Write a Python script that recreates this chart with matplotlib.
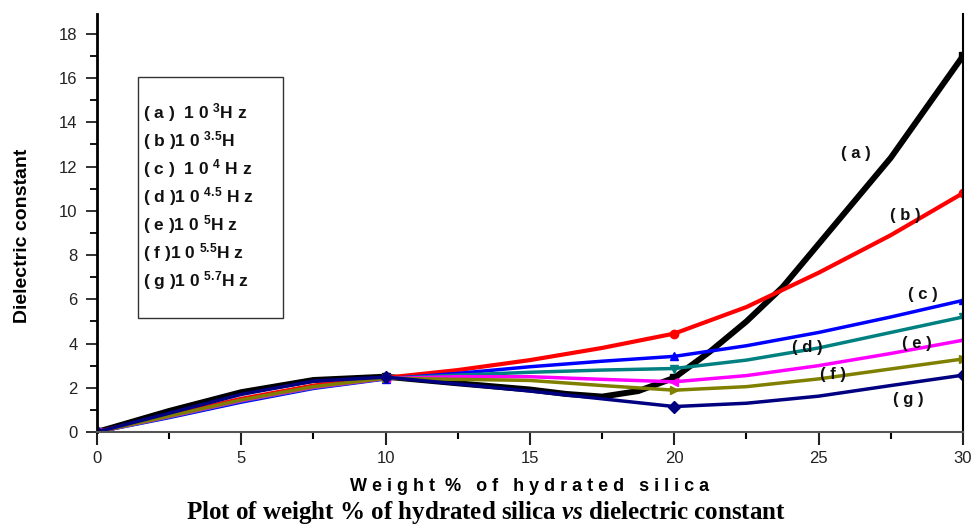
import numpy as np
import matplotlib
matplotlib.use('Agg')
import matplotlib.pyplot as plt
from matplotlib.patches import Rectangle
from matplotlib.ticker import MultipleLocator

plt.rcParams['font.family'] = ['Liberation Sans', 'DejaVu Sans']
plt.rcParams['mathtext.fontset'] = 'custom'
plt.rcParams['mathtext.rm'] = 'Liberation Sans:bold'
plt.rcParams['mathtext.bf'] = 'Liberation Sans:bold'
plt.rcParams['mathtext.it'] = 'Liberation Serif:italic:bold'
plt.rcParams['mathtext.default'] = 'bf'

# weight % of hydrated silica (every 2.5 %)
weight = [0, 2.5, 5, 7.5, 10, 12.5, 15, 17.5, 20, 22.5, 25, 27.5, 30]
# curve (a) bends sharply near 20 %, so it is read more finely there
weight_a = [0, 2.5, 5, 7.5, 10, 12.5, 15, 16.25, 17.5, 18.75, 20, 21.25,
            22.5, 23.75, 25, 27.5, 30]

# dielectric constant for each frequency
eps_a = [0, 0.95, 1.8, 2.35, 2.5, 2.2, 1.92, 1.72, 1.6, 1.85, 2.45, 3.65,
         5.0, 6.55, 8.5, 12.4, 17.0]
eps_b = [0, 0.75, 1.5, 2.1, 2.45, 2.8, 3.25, 3.8, 4.45, 5.65, 7.2, 8.9, 10.8]
eps_c = [0, 0.65, 1.35, 1.97, 2.4, 2.65, 2.95, 3.2, 3.42, 3.9, 4.5, 5.2, 5.95]
eps_d = [0, 0.68, 1.4, 2.0, 2.42, 2.57, 2.7, 2.8, 2.87, 3.25, 3.8, 4.5, 5.2]
eps_e = [0, 0.7, 1.42, 2.02, 2.42, 2.5, 2.5, 2.38, 2.27, 2.55, 3.0, 3.55, 4.15]
eps_f = [0, 0.72, 1.45, 2.05, 2.43, 2.38, 2.33, 2.1, 1.89, 2.05, 2.4, 2.85, 3.3]
eps_g = [0, 0.85, 1.7, 2.3, 2.48, 2.17, 1.85, 1.5, 1.15, 1.3, 1.62, 2.1, 2.57]

series = [(weight_a, eps_a), (weight, eps_b), (weight, eps_c), (weight, eps_d),
          (weight, eps_e), (weight, eps_f), (weight, eps_g)]
tags = ['a', 'b', 'c', 'd', 'e', 'f', 'g']
colors = ['black', '#ff0000', '#0000ff', '#008080', '#ff00ff', '#808000', '#000080']
markers = ['s', 'o', '^', 'v', '<', '>', 'D']
widths = [4.3, 3.0, 2.5, 2.5, 2.5, 2.5, 2.5]

legend_lines = [
    r'( a )  1 0 $^{3}$H z',
    r'( b )1 0 $^{3.5}$H',
    r'( c )  1 0 $^{4}$ H z',
    r'( d )1 0 $^{4.5}$ H z',
    r'( e )1 0 $^{5}$H z',
    r'( f )1 0 $^{5.5}$H z',
    r'( g )1 0 $^{5.7}$H z',
]

# where the curve tags sit (data coords)
tag_pos = [(26.3, 12.6), (28.0, 9.8), (28.6, 6.2), (24.6, 3.8),
           (28.4, 4.0), (25.5, 2.6), (28.1, 1.45)]

fig = plt.figure(figsize=(9.72, 5.29), dpi=100)
ax = fig.add_axes([0.0998, 0.1834, 0.8909, 0.7901])

for (x, y), c, m, lw in zip(series, colors, markers, widths):
    marks = [i for i, v in enumerate(x) if v in (0, 10, 20, 30)]
    ax.plot(x, y, color=c, linewidth=lw, marker=m, markersize=6,
            markevery=marks, solid_capstyle='round', solid_joinstyle='round')

for t, (tx, ty) in zip(tags, tag_pos):
    ax.text(tx, ty, '( %s )' % t, fontsize=12, fontweight='bold', color='#111111',
            ha='center', va='center')

ax.set_xlim(0, 30)
ax.set_ylim(0, 18.9)
ax.xaxis.set_major_locator(MultipleLocator(5))
ax.xaxis.set_minor_locator(MultipleLocator(2.5))
ax.yaxis.set_major_locator(MultipleLocator(2))
ax.yaxis.set_minor_locator(MultipleLocator(1))
ax.tick_params(axis='x', which='major', direction='out', length=9, width=1.5, pad=5,
               labelsize=12, colors='#222222')
ax.tick_params(axis='x', which='minor', direction='out', length=5, width=1.5)
ax.tick_params(axis='y', which='major', direction='out', length=8, width=1.3, pad=6,
               labelsize=12, colors='#222222')
ax.tick_params(axis='y', which='minor', direction='out', length=5, width=1.3)

ax.spines['top'].set_visible(False)
ax.spines['left'].set_linewidth(2)
ax.spines['bottom'].set_linewidth(1.5)
ax.spines['bottom'].set_color('#555555')
ax.spines['right'].set_linewidth(1.5)

ax.set_xlabel('W e i g h t  %   o f   h y d r a t e d   s i l i c a', fontsize=13,
              fontweight='bold', labelpad=8)
ax.set_ylabel('Dielectric constant', fontsize=14, fontweight='bold')
ax.yaxis.set_label_coords(-0.076, 0.47)

# legend box drawn by hand, as in the original
fig.patches.append(Rectangle((0.142, 0.399), 0.149, 0.456, transform=fig.transFigure,
                             fill=False, edgecolor='#333333', linewidth=1))
for i, s in enumerate(legend_lines):
    fig.text(0.147, 1 - (113 + 28 * i) / 529, s, fontsize=12.5, fontweight='bold',
             color='#111111', ha='left', va='center')

fig.text(0.5, 1 - 513 / 529,
         r'Plot of weight % of hydrated silica $\mathit{vs}$ dielectric constant',
         family=['Liberation Serif', 'DejaVu Serif'], fontweight='bold', fontsize=18,
         ha='center', va='center')

fig.savefig('out.png', dpi=100)
